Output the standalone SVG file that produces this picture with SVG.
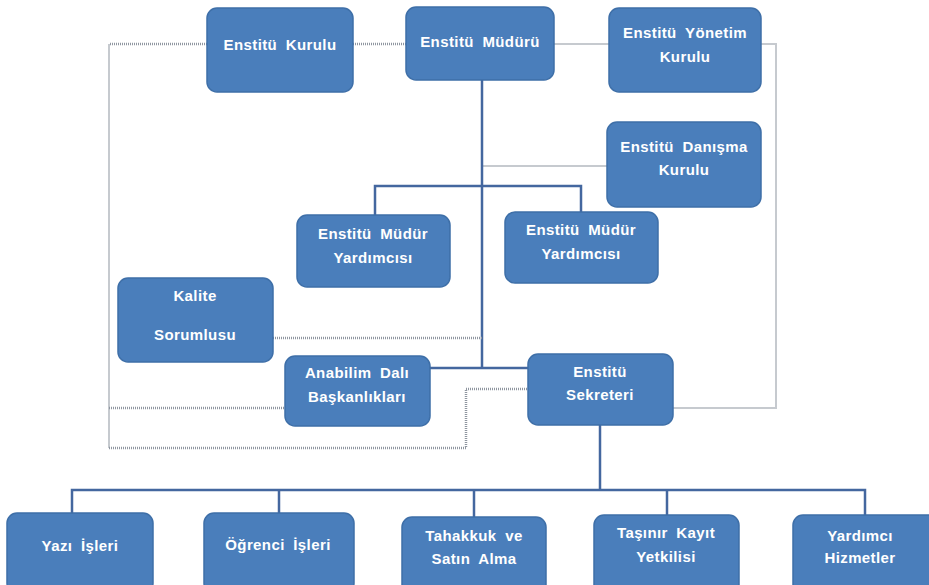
<svg xmlns="http://www.w3.org/2000/svg" width="929" height="585" viewBox="0 0 929 585">
<style>
.box{fill:#4a7ebb;stroke:#3e6fa8;stroke-width:1.5}
.t{font-family:"Liberation Sans",Arial,sans-serif;font-weight:bold;font-size:15px;fill:#ffffff;text-anchor:middle;letter-spacing:0.4px;word-spacing:4px}
.blue{stroke:#44679f;stroke-width:2.5;fill:none}
.gray{stroke:#c6cacf;stroke-width:2;fill:none}
.dot{stroke:#8f96a0;stroke-width:2.5;stroke-dasharray:1 1;fill:none}
</style>
<rect width="929" height="585" fill="#ffffff"/>
<g id="connectors">
<path class="dot" d="M110 44 H207"/>
<path class="dot" d="M353 44 H406"/>
<path class="gray" d="M554 44 H609"/>
<path class="gray" d="M761 44 H776 V408 H673"/>
<path class="gray" d="M109 44 V448"/>
<path class="gray" d="M482 166 H607"/>
<path class="blue" d="M482 80 V368"/>
<path class="blue" d="M375 216 V186 H581 V213"/>
<path class="blue" d="M430 368 H528"/>
<path class="dot" d="M273 338 H482"/>
<path class="dot" d="M109 408 H285"/>
<path class="dot" d="M109 448 H466 V389 H528"/>
<path class="blue" d="M600 425 V490"/>
<path class="blue" d="M72 513 V490 H865 V515"/>
<path class="blue" d="M279 513 V490"/>
<path class="blue" d="M474 517 V490"/>
<path class="blue" d="M667 515 V490"/>
</g>
<g id="n-kurulu"><rect class="box" x="207" y="8" width="146" height="84" rx="10"/><text class="t" x="280" y="50">Enstitü Kurulu</text></g>
<g id="n-mudur"><rect class="box" x="406" y="7" width="148" height="73" rx="10"/><text class="t" x="480" y="47">Enstitü Müdürü</text></g>
<g id="n-yonetim"><rect class="box" x="609" y="8" width="152" height="84" rx="10"/><text class="t" x="685" y="38">Enstitü Yönetim</text><text class="t" x="685" y="62">Kurulu</text></g>
<g id="n-danisma"><rect class="box" x="607" y="122" width="154" height="85" rx="10"/><text class="t" x="684" y="152">Enstitü Danışma</text><text class="t" x="684" y="175">Kurulu</text></g>
<g id="n-yard1"><rect class="box" x="297" y="215" width="153" height="72" rx="10"/><text class="t" x="373" y="239">Enstitü Müdür</text><text class="t" x="373" y="263">Yardımcısı</text></g>
<g id="n-yard2"><rect class="box" x="505" y="212" width="153" height="71" rx="10"/><text class="t" x="581" y="235">Enstitü Müdür</text><text class="t" x="581" y="259">Yardımcısı</text></g>
<g id="n-kalite"><rect class="box" x="118" y="278" width="155" height="84" rx="10"/><text class="t" x="195" y="301">Kalite</text><text class="t" x="195" y="340">Sorumlusu</text></g>
<g id="n-anabilim"><rect class="box" x="285" y="356" width="145" height="70" rx="10"/><text class="t" x="357" y="378">Anabilim Dalı</text><text class="t" x="357" y="402">Başkanlıkları</text></g>
<g id="n-sekreter"><rect class="box" x="528" y="354" width="145" height="71" rx="10"/><text class="t" x="600" y="377">Enstitü</text><text class="t" x="600" y="400">Sekreteri</text></g>
<g id="n-yazi"><rect class="box" x="7" y="513" width="146" height="80" rx="10"/><text class="t" x="80" y="551">Yazı İşleri</text></g>
<g id="n-ogrenci"><rect class="box" x="204" y="513" width="150" height="80" rx="10"/><text class="t" x="278" y="550">Öğrenci İşleri</text></g>
<g id="n-tahakkuk"><rect class="box" x="402" y="517" width="144" height="80" rx="10"/><text class="t" x="474" y="541">Tahakkuk ve</text><text class="t" x="474" y="564">Satın Alma</text></g>
<g id="n-tasinir"><rect class="box" x="594" y="515" width="145" height="80" rx="10"/><text class="t" x="666" y="538">Taşınır Kayıt</text><text class="t" x="666" y="562">Yetkilisi</text></g>
<g id="n-hizmet"><rect class="box" x="793" y="515" width="150" height="80" rx="10"/><text class="t" x="860" y="541">Yardımcı</text><text class="t" x="860" y="563">Hizmetler</text></g>
</svg>
